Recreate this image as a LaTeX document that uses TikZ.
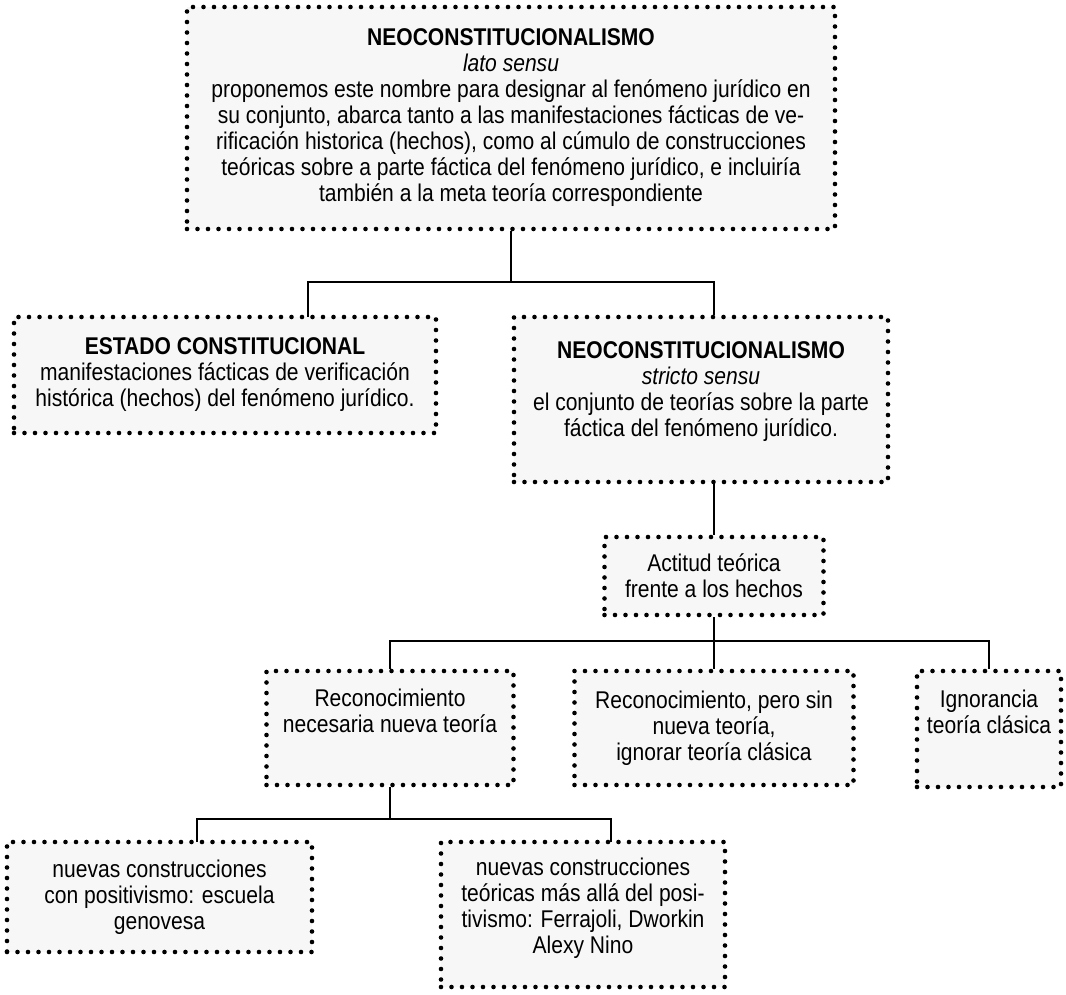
\documentclass[tikz,border=0pt]{standalone}
\usepackage{fontspec}
\setmainfont{Liberation Sans}[FakeStretch=0.87]
\usepackage{tikz}

\begin{document}
\begin{tikzpicture}[x=0.5pt, y=-0.5pt,
    box/.style={draw, dash pattern=on 0pt off 5.25pt, line cap=round, line width=2.3pt,
                fill=black!3, align=center, inner sep=0pt,
                font=\fontsize{12.1}{13}\selectfont},
    link/.style={line width=1.3pt}]
            \useasboundingbox (0,0) rectangle (1066,995);
            \node[box, minimum width=324pt, minimum height=111pt] (top) at (511,118)
                {\textbf{NEOCONSTITUCIONALISMO}\\
                 \textit{lato sensu}\\
                 proponemos este nombre para designar al fenómeno jurídico en\\
                 su conjunto, abarca tanto a las manifestaciones fácticas de ve-\\
                 rificación historica (hechos), como al cúmulo de construcciones\\
                 teóricas sobre a parte fáctica del fenómeno jurídico, e incluiría\\
                 también a la meta teoría correspondiente};
            \node[box, minimum width=211pt, minimum height=58pt] (estado) at (225,375)
                {\textbf{ESTADO CONSTITUCIONAL}\\
                 manifestaciones fácticas de verificación\\
                 histórica (hechos) del fenómeno jurídico.};
            \node[box, minimum width=187pt, minimum height=82.5pt] (neostr) at (701,399.5)
                {\textbf{NEOCONSTITUCIONALISMO}\\
                 \textit{stricto sensu}\\
                 el conjunto de teorías sobre la parte\\
                 fáctica del fenómeno jurídico.\\[-3pt]\mbox{}};
            \node[box, minimum width=109.5pt, minimum height=39pt] (actitud) at (714,576)
                {Actitud teórica\\ frente a los hechos};
            \node[box, minimum width=123.5pt, minimum height=57pt] (rec1) at (390,728)
                {Reconocimiento\\ necesaria nueva teoría\\[4pt]\mbox{}};
            \node[box, minimum width=139.5pt, minimum height=57pt] (rec2) at (714,728)
                {Reconocimiento, pero sin\\ nueva teoría,\\ ignorar teoría clásica};
            \node[box, minimum width=72pt, minimum height=58pt] (ign) at (989,729)
                {Ignorancia\\ teoría clásica\\[4pt]\mbox{}};
            \node[box, minimum width=152.5pt, minimum height=55pt] (nue1) at (159.5,897)
                {nuevas construcciones\\ con positivismo: escuela\\ genovesa};
            \node[box, minimum width=142pt, minimum height=72.5pt] (nue2) at (583,914.5)
                {nuevas construcciones\\ teóricas más allá del posi-\\
                 tivismo: Ferrajoli, Dworkin\\ Alexy Nino\\[-4.5pt]\mbox{}};
            \coordinate (fork1) at (511,282);
            \coordinate (estado-in) at (308,317);
            \coordinate (fork2) at (714,641);
            \coordinate (fork3) at (390,819);
            \coordinate (nue1-in) at (197,842);
            \coordinate (nue2-in) at (611,842);
            \draw[link] (top) -- (fork1) -| (estado-in);
            \draw[link] (fork1) -| (neostr.north -| actitud.north);
            \draw[link] (neostr.south -| actitud.north) -- (actitud.north);
            \draw[link] (actitud) -- (fork2) -| (rec1.north);
            \draw[link] (fork2) -- (rec2.north);
            \draw[link] (fork2) -| (ign.north);
            \draw[link] (rec1) -- (fork3) -| (nue1-in);
            \draw[link] (fork3) -| (nue2-in);
        \end{tikzpicture}
\end{document}
